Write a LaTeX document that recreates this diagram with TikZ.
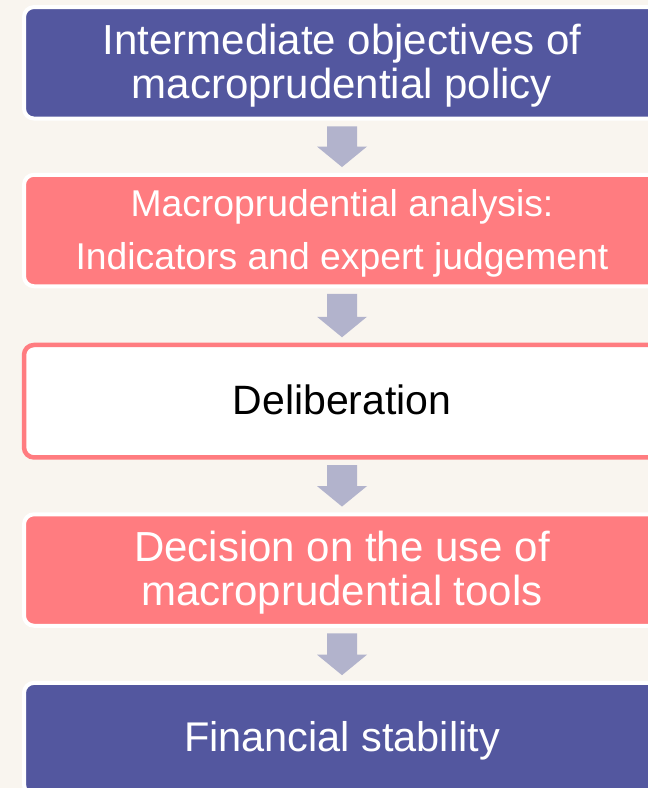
\documentclass[tikz,border=0pt]{standalone}
\usepackage{fontspec}
\setmainfont{Liberation Sans}
\usetikzlibrary{calc}
\definecolor{bgc}{HTML}{F9F5EF}
\definecolor{boxblue}{HTML}{53579F}
\definecolor{boxred}{HTML}{FF7C80}
\definecolor{arrowc}{HTML}{B2B3CC}
\tikzset{
  box/.style={rectangle, rounded corners=10pt, minimum width=636pt, minimum height=111.5pt,
    outer sep=0pt, inner sep=0pt, align=center, line width=4pt},
  bluebox/.style={box, fill=boxblue, draw=white, text=white},
  redbox/.style={box, fill=boxred, draw=white, text=white},
  openbox/.style={box, fill=white, draw=boxred, line width=4.5pt, text=black, minimum height=112.5pt},
  bigfont/.style={font=\fontsize{42}{44}\selectfont},
  smallfont/.style={font=\fontsize{37.3}{53}\selectfont},
}
\newcommand\lowered[2]{\raisebox{-#1}[\height][\depth]{#2}}
\newcommand\blockarrow[2]{%
  \fill[arrowc] let \p1=(#1.south), \p2=(#2.north) in
    (\x1-15pt,\y1-7.7pt) -- (\x1+15pt,\y1-7.7pt) -- (\x1+15pt,\y2+28.2pt) --
    (\x1+25pt,\y2+28.2pt) -- (\x1,\y2+7.7pt) -- (\x1-25pt,\y2+28.2pt) --
    (\x1-15pt,\y2+28.2pt) -- cycle;}
\begin{document}
\begin{tikzpicture}[x=1pt,y=-1pt]
\useasboundingbox (0,0) rectangle (648,788);
\begin{scope}
\clip (0,0) rectangle (648,788);
\fill[bgc] (0,0) rectangle (648,788);
\node[bluebox, bigfont] (b1) at (342,62.8)
  {\lowered{2.5pt}{Intermediate objectives of}\\\lowered{2.5pt}{macroprudential policy}};
\node[redbox, smallfont] (b2) at (342,230.5)
  {\lowered{2.5pt}{Macroprudential analysis:}\\\lowered{2.5pt}{Indicators and expert judgement}};
\node[openbox, font=\fontsize{41}{44}\selectfont, text depth=6pt] (b3) at (342,401.2)
  {\lowered{1pt}{Deliberation}};
\node[redbox, bigfont] (b4) at (342,570)
  {\lowered{2.5pt}{Decision on the use of}\\\lowered{2.5pt}{macroprudential tools}};
\node[bluebox, font=\fontsize{41.5}{44}\selectfont] (b5) at (342,738.6)
  {\lowered{2.5pt}{Financial stability}};
\blockarrow{b1}{b2}
\blockarrow{b2}{b3}
\blockarrow{b3}{b4}
\blockarrow{b4}{b5}
\end{scope}
\end{tikzpicture}
\end{document}
